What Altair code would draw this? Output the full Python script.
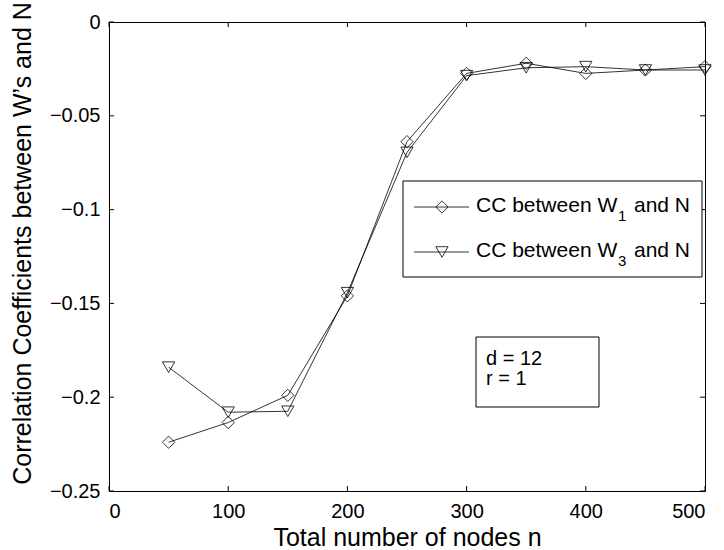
import altair as alt
import pandas as pd

# Correlation coefficients vs. total number of nodes (d = 12, r = 1)
nodes = [50, 100, 150, 200, 250, 300, 350, 400, 450, 500]
cc_w1 = [-0.224, -0.2135, -0.199, -0.146, -0.0638, -0.0274, -0.022, -0.0274, -0.0256, -0.0238]
cc_w3 = [-0.184, -0.208, -0.2075, -0.1443, -0.0695, -0.0286, -0.0244, -0.0238, -0.0256, -0.0256]
series_names = ["W1", "W3"]
series_shapes = ["diamond", "triangle-down"]
x_ticks = [0, 100, 200, 300, 400, 500]
y_ticks = [-0.25, -0.2, -0.15, -0.1, -0.05, 0]

W, H = 596, 469
FONT = "Liberation Sans"
TICK = 5

df = pd.DataFrame({
    "n": nodes * 2,
    "cc": cc_w1 + cc_w3,
    "series": [series_names[0]] * len(nodes) + [series_names[1]] * len(nodes),
})
xt = pd.DataFrame({"n": x_ticks})
yt = pd.DataFrame({"cc": y_ticks})

x_scale = alt.Scale(domain=[0, 500], nice=False, zero=False)
y_scale = alt.Scale(domain=[-0.25, 0], nice=False, zero=False)

x_enc = alt.X(
    "n:Q", scale=x_scale,
    axis=alt.Axis(
        values=x_ticks, format="d", ticks=False, tickSize=0, domain=False, grid=False,
        labelPadding=10, labelFont=FONT, labelFontSize=20, labelColor="black",
        title="Total number of nodes n", titleFont=FONT, titleFontSize=25,
        titleFontWeight="normal", titleColor="black", titleY=54,
        titleBaseline="alphabetic",
    ),
)
y_enc = alt.Y(
    "cc:Q", scale=y_scale,
    axis=alt.Axis(
        values=y_ticks, format="~g", ticks=False, tickSize=0, domain=False, grid=False,
        labelPadding=9, labelFont=FONT, labelFontSize=20, labelColor="black",
        title="Correlation Coefficients between W’s and N", titleFont=FONT,
        titleFontSize=25, titleFontWeight="normal", titleColor="black",
        titleX=-79, titleY=221, titleBaseline="alphabetic", titleAngle=270,
    ),
)

shape_enc = alt.Shape(
    "series:N",
    scale=alt.Scale(domain=series_names, range=series_shapes),
    legend=None,
)

lines = alt.Chart(df).mark_line(color="black", strokeWidth=0.8).encode(
    x=x_enc, y=y_enc, detail="series:N"
)
points = alt.Chart(df).mark_point(
    filled=False, size=150, color="black", strokeWidth=0.8, opacity=1
).encode(x=x_enc, y=y_enc, shape=shape_enc)

# inward ticks on all four sides of the box
tick_bottom = alt.Chart(xt).mark_rule(color="black", strokeWidth=1).encode(
    x=x_enc, y=alt.value(H), y2=alt.value(H - TICK)
)
tick_top = alt.Chart(xt).mark_rule(color="black", strokeWidth=1).encode(
    x=x_enc, y=alt.value(0), y2=alt.value(TICK)
)
tick_left = alt.Chart(yt).mark_rule(color="black", strokeWidth=1).encode(
    y=y_enc, x=alt.value(0), x2=alt.value(TICK)
)
tick_right = alt.Chart(yt).mark_rule(color="black", strokeWidth=1).encode(
    y=y_enc, x=alt.value(W), x2=alt.value(W - TICK)
)

one = alt.Data(values=[{}])

# legend box
LX0, LX1, LY0, LY1 = 294, 593, 159, 255
ROW = [185, 230]
legend_box = alt.Chart(one).mark_rect(fill="white", stroke="black", strokeWidth=1).encode(
    x=alt.value(LX0), x2=alt.value(LX1), y=alt.value(LY0), y2=alt.value(LY1)
)
legend_layers = [legend_box]
subs = ["1", "3"]
for i, row_y in enumerate(ROW):
    legend_layers.append(
        alt.Chart(one).mark_rule(color="black", strokeWidth=0.8).encode(
            x=alt.value(305), x2=alt.value(360), y=alt.value(row_y)
        )
    )
    legend_layers.append(
        alt.Chart(one).mark_point(
            filled=False, size=150, color="black", strokeWidth=0.8, opacity=1,
            shape=series_shapes[i],
        ).encode(x=alt.value(333), y=alt.value(row_y))
    )
    base_y = row_y + 4.5
    legend_layers.append(
        alt.Chart(one).mark_text(
            text="CC between W", font=FONT, fontSize=21, align="left",
            baseline="alphabetic", color="black",
        ).encode(x=alt.value(367), y=alt.value(base_y))
    )
    legend_layers.append(
        alt.Chart(one).mark_text(
            text=subs[i], font=FONT, fontSize=15, align="left",
            baseline="alphabetic", color="black",
        ).encode(x=alt.value(509), y=alt.value(base_y + 9))
    )
    legend_layers.append(
        alt.Chart(one).mark_text(
            text="and N", font=FONT, fontSize=21, align="left",
            baseline="alphabetic", color="black",
        ).encode(x=alt.value(525), y=alt.value(base_y))
    )

# parameter annotation box
note_box = alt.Chart(one).mark_rect(fill="white", stroke="black", strokeWidth=1).encode(
    x=alt.value(367), x2=alt.value(490), y=alt.value(315), y2=alt.value(385)
)
note_lines = ["d = 12", "r = 1"]
note_layers = [note_box]
for i, txt in enumerate(note_lines):
    note_layers.append(
        alt.Chart(one).mark_text(
            text=txt, font=FONT, fontSize=20, align="left",
            baseline="alphabetic", color="black",
        ).encode(x=alt.value(377), y=alt.value(343 + 20 * i))
    )

chart = alt.layer(
    lines, points, tick_bottom, tick_top, tick_left, tick_right,
    *legend_layers, *note_layers,
).properties(
    width=W, height=H,
    autosize=alt.AutoSizeParams(type="none"),
    padding={"left": 109, "top": 22, "right": 19, "bottom": 59},
    background="white",
).configure_view(
    stroke="black", strokeWidth=1
)

chart.save("out.html", embed_options={"renderer": "svg", "actions": False})
